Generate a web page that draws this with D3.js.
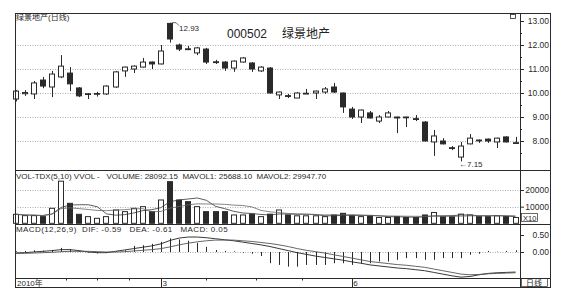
<!DOCTYPE html>
<html>
<head>
<meta charset="utf-8">
<script src="https://cdn.jsdelivr.net/npm/d3@7"></script>
<style>
  body { margin: 0; background: #fff; }
  svg { display: block; font-family: "Liberation Sans", Arial, "Noto Sans CJK SC", sans-serif; }
</style>
</head>
<body>
<svg id="chart" width="566" height="304"></svg>
<script>
// daily bars
var opens = [9.75, 9.97, 9.96, 10.54, 10.25, 10.67, 10.83, 10.21, 9.95, 9.96,
  9.96, 10.25, 10.92, 11.0, 11.08, 11.29, 11.21, 12.9, 12.0, 11.84,
  11.67, 11.83, 11.3, 11.29, 11.04, 11.29, 11.25, 10.92, 11.04, 9.92,
  9.89, 9.79, 9.97, 10.0, 10.04, 10.25, 10.0, 9.33, 9.0, 9.17,
  8.83, 9.0, 9.0, 9.0, 8.93, 8.79, 7.96, 8.0, 7.72, 7.33,
  7.88, 8.04, 8.08, 7.96, 8.17, 7.91];
var closes = [10.08, 10.02, 10.42, 10.29, 10.79, 11.12, 10.38, 9.88, 9.97, 9.98,
  10.29, 10.88, 11.08, 11.12, 11.29, 11.21, 11.75, 12.25, 11.83, 11.82,
  11.88, 11.29, 11.28, 11.04, 11.33, 11.46, 11.0, 11.08, 10.0, 10.04,
  9.87, 10.0, 9.99, 10.08, 10.17, 10.04, 9.42, 9.0, 9.29, 8.96,
  9.0, 9.17, 8.96, 8.98, 8.91, 8.0, 8.21, 7.88, 7.7, 7.79,
  8.12, 8.03, 8.0, 8.12, 7.96, 7.93];
var highs = [10.12, 10.12, 10.5, 10.67, 10.92, 11.58, 11.08, 10.25, 10.0, 10.05,
  10.32, 10.92, 11.1, 11.15, 11.46, 11.31, 12.0, 12.93, 12.06, 11.96,
  11.92, 11.88, 11.38, 11.33, 11.36, 11.5, 11.29, 11.12, 11.08, 10.06,
  9.96, 10.04, 10.17, 10.1, 10.25, 10.42, 10.02, 9.42, 9.31, 9.25,
  9.08, 9.25, 9.01, 9.01, 9.08, 8.83, 8.46, 8.12, 7.79, 7.96,
  8.29, 8.06, 8.1, 8.14, 8.19, 8.17];
var lows = [9.65, 9.88, 9.75, 10.2, 9.83, 10.62, 10.08, 9.83, 9.75, 9.85,
  9.92, 10.21, 10.67, 10.83, 11.06, 11.0, 11.19, 12.1, 11.75, 11.79,
  11.58, 11.21, 11.21, 10.92, 10.88, 11.27, 10.88, 10.88, 9.98, 9.75,
  9.79, 9.79, 9.96, 9.75, 9.96, 10.0, 9.17, 8.92, 8.75, 8.94,
  8.75, 8.98, 8.33, 8.58, 8.83, 7.98, 7.38, 7.86, 7.62, 7.15,
  7.86, 7.92, 7.92, 7.71, 7.94, 7.91];
var volumes = [5400, 4600, 4600, 4000, 9000, 25300, 12000, 5400, 4000, 3000,
  4000, 8000, 7000, 9000, 10000, 7000, 14000, 25000, 14000, 13000,
  10000, 7000, 7000, 7000, 5000, 5000, 5500, 4000, 5500, 8000,
  5000, 4500, 4500, 4500, 4000, 5000, 6000, 4500, 4000, 4500,
  3500, 3500, 4000, 3500, 3500, 5000, 6500, 4000, 4000, 5500,
  5000, 4000, 4000, 4500, 4000, 3500];
var mavol1 = [5400, 5000, 4870, 4650, 5520, 9500, 10980, 11140, 11140, 9940,
  5680, 4880, 5200, 6200, 7600, 8200, 9400, 13000, 14000, 14600,
  15200, 13800, 10200, 8800, 7200, 6200, 5900, 5300, 5000, 5600,
  5600, 5400, 5500, 5300, 4500, 4500, 4800, 4800, 4700, 4800,
  4500, 4000, 3900, 3800, 3600, 3900, 4500, 4500, 4600, 5000,
  5000, 4500, 4500, 4600, 4300, 4000];
var mavol2 = [5400, 5000, 4900, 4700, 5500, 8800, 9300, 8800, 8300, 7730,
  7590, 7930, 8170, 8670, 8770, 6940, 7140, 9100, 10100, 11100,
  11700, 11600, 11600, 11400, 10900, 10700, 9850, 7750, 6900, 6400,
  5900, 5650, 5400, 5150, 5050, 5050, 5100, 5150, 5000, 4650,
  4500, 4400, 4350, 4250, 4200, 4200, 4250, 4200, 4200, 4300,
  4450, 4500, 4500, 4600, 4650, 4500];
var dif = [-0.03, -0.02, 0.0, 0.02, 0.04, 0.07, 0.07, 0.04, 0.0, -0.02,
  -0.02, 0.02, 0.06, 0.1, 0.14, 0.18, 0.24, 0.34, 0.41, 0.44,
  0.44, 0.42, 0.39, 0.36, 0.33, 0.29, 0.25, 0.21, 0.16, 0.1,
  0.04, -0.02, -0.07, -0.12, -0.16, -0.2, -0.24, -0.29, -0.33, -0.38,
  -0.41, -0.44, -0.47, -0.49, -0.52, -0.55, -0.6, -0.65, -0.7, -0.74,
  -0.72, -0.67, -0.63, -0.61, -0.6, -0.59];
var dea = [-0.04, -0.04, -0.03, -0.02, -0.01, 0.01, 0.02, 0.02, 0.02, 0.01,
  0.0, 0.0, 0.01, 0.03, 0.05, 0.07, 0.1, 0.15, 0.21, 0.26,
  0.3, 0.33, 0.35, 0.35, 0.35, 0.33, 0.31, 0.28, 0.25, 0.21,
  0.16, 0.1, 0.05, 0.01, -0.03, -0.08, -0.13, -0.18, -0.23, -0.28,
  -0.31, -0.34, -0.37, -0.39, -0.42, -0.45, -0.5, -0.55, -0.6, -0.65,
  -0.67, -0.66, -0.64, -0.63, -0.62, -0.61];
var macd = [0.02, 0.03, 0.05, 0.04, 0.06, 0.12, 0.08, 0.03, -0.02, -0.04,
  -0.03, 0.02, 0.05, 0.18, 0.2, 0.24, 0.3, 0.4, 0.37, 0.33,
  0.27, 0.15, 0.06, 0.03, 0.02, -0.02, -0.05, -0.12, -0.33, -0.38,
  -0.43, -0.43, -0.38, -0.38, -0.38, -0.33, -0.33, -0.38, -0.33, -0.33,
  -0.28, -0.28, -0.23, -0.18, -0.18, -0.23, -0.23, -0.18, -0.18, -0.18,
  -0.08, -0.05, 0.03, 0.01, 0.03, 0.05];
var priceTicks = [8, 9, 10, 11, 12, 13];
var volTicks = [10000, 20000];
var macdTicks = [0, 0.5];
var minorTicks = [7.5, 8.5, 9.5, 10.5, 11.5, 12.5];
var dateTicks = [5.5, 9, 12.5, 21, 26.5, 31.5];
var monthLabels = [{ i: 16, t: "3" }, { i: 37, t: "6" }];

var svg = d3.select("#chart");
var ink = "#2a2a2a";
var L = 15, R = 520, RR = 550, T = 13, B = 287;

var idx = d3.range(opens.length);
var x = d3.scaleBand().domain(idx).range([12.5, 518.5]).paddingInner(0.34);
var cx = function (i) { return x(i) + x.bandwidth() / 2; };
var xi = d3.scaleLinear().domain([0, opens.length - 1]).range([cx(0), cx(opens.length - 1)]);

var y = d3.scaleLinear().domain([7, 13]).range([165, 21]);
var yv = d3.scaleLinear().domain([0, 20000]).range([223.3, 190]);
var ym = d3.scaleLinear().domain([-0.75, 0.5]).range([277.5, 235]);

// grid
function dotted(vals, sc) {
  svg.append("g").selectAll("line").data(vals).enter().append("line")
    .attr("x1", L).attr("x2", R)
    .attr("y1", function (d) { return Math.round(sc(d)) + 0.5; })
    .attr("y2", function (d) { return Math.round(sc(d)) + 0.5; })
    .attr("stroke", "#999").attr("stroke-width", 0.8).attr("stroke-dasharray", "1,1.5");
}
dotted([8, 9, 10, 11, 12], y);
dotted(volTicks, yv);
dotted([0], ym);

// candles
var c = svg.append("g");
c.selectAll("line").data(idx).enter().append("line")
  .attr("x1", function (i) { return Math.round(cx(i)) + 0.5; })
  .attr("x2", function (i) { return Math.round(cx(i)) + 0.5; })
  .attr("y1", function (i) { return y(highs[i]); })
  .attr("y2", function (i) { return y(lows[i]); })
  .attr("stroke", ink).attr("stroke-width", 1);
c.selectAll("rect").data(idx).enter().append("rect")
  .attr("x", function (i) { return Math.round(x(i)) + 0.5; })
  .attr("width", Math.round(x.bandwidth()) - 1)
  .attr("y", function (i) { return y(Math.max(opens[i], closes[i])); })
  .attr("height", function (i) { return Math.max(0.8, Math.abs(y(opens[i]) - y(closes[i]))); })
  .attr("fill", function (i) { return closes[i] >= opens[i] ? "#fff" : ink; })
  .attr("stroke", ink).attr("stroke-width", 1);

// high / low notes
var hiI = d3.maxIndex(highs), loI = d3.minIndex(lows);
svg.append("path")
  .attr("d", "M" + (cx(hiI) + 2) + "," + y(highs[hiI]) + "l4,0l3,3")
  .attr("fill", "none").attr("stroke", ink).attr("stroke-width", 0.7);
svg.append("text").attr("x", cx(hiI) + 9).attr("y", y(highs[hiI]) + 8)
  .attr("font-size", 8).attr("fill", ink).text(highs[hiI].toFixed(2));
svg.append("text").attr("x", cx(loI) - 2).attr("y", y(lows[loI]) + 6)
  .attr("font-size", 8).attr("fill", ink).text("←" + lows[loI].toFixed(2));

// volume
var v = svg.append("g");
v.selectAll("rect").data(idx).enter().append("rect")
  .attr("x", function (i) { return Math.round(x(i)) + 0.5; })
  .attr("width", Math.round(x.bandwidth()) - 1)
  .attr("y", function (i) { return yv(volumes[i]); })
  .attr("height", function (i) { return yv(0) - yv(volumes[i]); })
  .attr("fill", function (i) { return closes[i] >= opens[i] ? "#fff" : ink; })
  .attr("stroke", ink).attr("stroke-width", 1);
[mavol1, mavol2].forEach(function (s, k) {
  svg.append("path").datum(s)
    .attr("d", d3.line().x(function (d, i) { return cx(i); }).y(function (d) { return yv(d); }))
    .attr("fill", "none").attr("stroke", k ? "#666" : "#333").attr("stroke-width", 0.8);
});

// macd
svg.append("g").selectAll("line").data(idx).enter().append("line")
  .attr("x1", function (i) { return Math.round(cx(i)) + 0.5; })
  .attr("x2", function (i) { return Math.round(cx(i)) + 0.5; })
  .attr("y1", ym(0))
  .attr("y2", function (i) { return ym(macd[i]); })
  .attr("stroke", ink).attr("stroke-width", 1);
[dif, dea].forEach(function (s, k) {
  svg.append("path").datum(s)
    .attr("d", d3.line().x(function (d, i) { return cx(i); }).y(function (d) { return ym(d); }))
    .attr("fill", "none").attr("stroke", k ? "#555" : "#222").attr("stroke-width", 0.9);
});

// right axes
function rightAxis(sc, vals, fmt, size) {
  var g = svg.append("g").attr("transform", "translate(" + R + ",0)")
    .call(d3.axisRight(sc).tickValues(vals).tickSize(size).tickFormat(fmt));
  g.select(".domain").remove();
  g.selectAll("line").attr("stroke", ink);
  g.selectAll("text").attr("font-size", 8.5).attr("fill", ink)
    .attr("font-family", '"Liberation Sans", Arial, sans-serif')
    .attr("text-anchor", "end").attr("x", RR - R - 1);
  return g;
}
rightAxis(y, priceTicks, d3.format(".2f"), 4);
rightAxis(y, minorTicks, function () { return ""; }, 2);
rightAxis(yv, volTicks, d3.format("d"), 4);
rightAxis(ym, macdTicks, d3.format(".2f"), 4);

// frame
svg.append("rect").attr("x", L + 0.5).attr("y", T + 0.5).attr("width", RR - L).attr("height", B - T)
  .attr("fill", "none").attr("stroke", ink).attr("stroke-width", 1);
[170, 223.8, 277.5].forEach(function (yy) {
  svg.append("line").attr("x1", L).attr("x2", RR + 0.5).attr("y1", Math.round(yy) + 0.5).attr("y2", Math.round(yy) + 0.5)
    .attr("stroke", ink).attr("stroke-width", 1);
});
svg.append("line").attr("x1", R + 0.5).attr("x2", R + 0.5).attr("y1", T).attr("y2", B)
  .attr("stroke", ink).attr("stroke-width", 1);

// date strip
svg.append("g").selectAll("line").data(dateTicks).enter().append("line")
  .attr("x1", function (d) { return Math.round(xi(d)) + 0.5; })
  .attr("x2", function (d) { return Math.round(xi(d)) + 0.5; })
  .attr("y1", 278).attr("y2", 280.5).attr("stroke", ink);
svg.append("g").selectAll("line").data(monthLabels).enter().append("line")
  .attr("x1", function (d) { return Math.round(xi(d.i)) + 0.5; })
  .attr("x2", function (d) { return Math.round(xi(d.i)) + 0.5; })
  .attr("y1", 278).attr("y2", B).attr("stroke", ink);
svg.append("g").selectAll("text").data(monthLabels).enter().append("text")
  .attr("x", function (d) { return xi(d.i) + 1.5; }).attr("y", 286)
  .attr("font-size", 8).attr("fill", ink).text(function (d) { return d.t; });
svg.append("text").attr("x", 17).attr("y", 286).attr("font-size", 8).attr("fill", ink).text("2010年");

// labels
svg.append("text").attr("x", 16).attr("y", 20).attr("font-size", 8).attr("fill", ink).text("绿景地产(日线)");
svg.append("text").attr("x", 227).attr("y", 38).attr("font-size", 12).attr("fill", "#222").text("000502");
svg.append("text").attr("x", 282).attr("y", 38).attr("font-size", 12).attr("fill", "#222").text("绿景地产");
svg.append("text").attr("x", 16).attr("y", 178.5).attr("font-size", 8).attr("fill", ink)
  .attr("xml:space", "preserve")
  .text("VOL-TDX(5,10) VVOL -   VOLUME: 28092.15  MAVOL1: 25688.10  MAVOL2: 29947.70");
svg.append("text").attr("x", 16).attr("y", 231.5).attr("font-size", 8).attr("fill", ink)
  .attr("xml:space", "preserve").attr("letter-spacing", 0.4)
  .text("MACD(12,26,9)  DIF: -0.59   DEA: -0.61   MACD: 0.05");
svg.append("rect").attr("x", 521.5).attr("y", 213.5).attr("width", 16).attr("height", 8)
  .attr("fill", "none").attr("stroke", ink).attr("stroke-width", 0.7);
svg.append("text").attr("x", 523).attr("y", 220.5).attr("font-size", 7.5).attr("fill", ink).text("X10");
svg.append("rect").attr("x", 521.5).attr("y", 278.5).attr("width", 26).attr("height", 8)
  .attr("fill", "none").attr("stroke", ink).attr("stroke-width", 0.7);
svg.append("text").attr("x", 526).attr("y", 285.8).attr("font-size", 8).attr("fill", ink).text("日线");
svg.append("rect").attr("x", 510.5).attr("y", 14.5).attr("width", 5).attr("height", 4)
  .attr("fill", "#fff").attr("stroke", ink).attr("stroke-width", 0.8);
</script>
</body>
</html>
